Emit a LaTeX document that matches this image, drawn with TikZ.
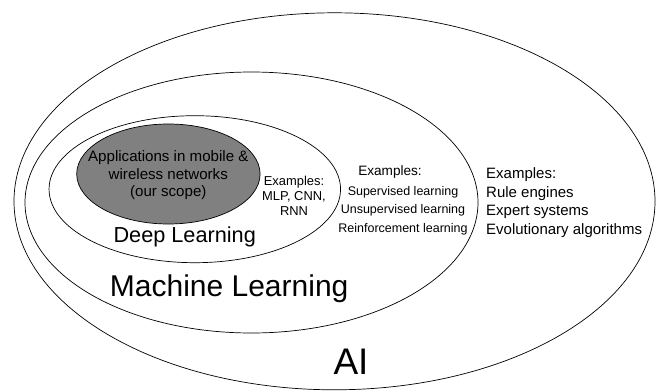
\documentclass[tikz,border=0pt]{standalone}
\usepackage{fontspec}
\setmainfont{Liberation Sans}
\usepackage{xcolor}
\usepackage{tikz}
\usetikzlibrary{shapes.geometric}
\definecolor{scopeGray}{RGB}{128,128,128}
\newcommand{\scopeLines}{0/Applications in mobile \&, 1/wireless networks, 2/(our scope)}
\newcommand{\dlExamples}{0/Examples:, 1/{MLP, CNN,}, 2/RNN}
\newcommand{\mlExamples}{0/Supervised learning, 1/Unsupervised learning, 2/Reinforcement learning}
\newcommand{\aiExamples}{0/Examples:, 1/Rule engines, 2/Expert systems, 3/Evolutionary algorithms}
\newcommand{\setSize}[1]{\fontsize{#1}{#1}\selectfont}
\tikzset{
	setOval/.style={ellipse, draw, line width=.7pt, inner sep=0pt},
	setLabel/.style={anchor=base, inner sep=0pt}
}

\begin{document}
\begin{tikzpicture}[x=1pt, y=-1pt]
	\useasboundingbox (0,0) rectangle (657,391);
	
	\node[setOval, minimum width=641, minimum height=377] (ai) at (334.5,201.3) {};
	\node[setOval, minimum width=453, minimum height=261] (ml) at (251.5,202.5) {};
	\node[setOval, minimum width=291.5, minimum height=147] (dl) at (194.8,189.2) {};
	\node[setOval, fill=scopeGray, minimum width=183.4, minimum height=100] (scope) at (168.4,174) {};
	
	\foreach \lineNumber/\name in \scopeLines
	{
		\node[setLabel, font=\setSize{15.1}] (scopeText\lineNumber) at (168.3,161.5 + \lineNumber * 17.5) {\name};
	}
	\foreach \lineNumber/\name in \dlExamples
	{
		\node[setLabel, font=\setSize{12.9}] (dlText\lineNumber) at (294,185 + \lineNumber * 15.3) {\name};
	}
	\node[setLabel, font=\setSize{13.6}] (mlHead) at (390,175.5) {Examples:};
	\foreach \lineNumber/\name in \mlExamples
	{
		\node[setLabel, font=\setSize{12.5}] (mlText\lineNumber) at (403,195.5 + \lineNumber * 18.3) {\name};
	}
	\foreach \lineNumber/\name in \aiExamples
	{
		\node[setLabel, anchor=base west, font=\setSize{15}] (aiText\lineNumber) at (486,178.5 + \lineNumber * 18.5) {\name};
	}
	
	\node[setLabel, font=\setSize{21.7}] (dlName) at (184.7,242.7) {Deep Learning};
	\node[setLabel, font=\setSize{30}] (mlName) at (229.2,296.7) {Machine Learning};
	\node[setLabel, font=\setSize{37}] (aiName) at (351,374) {AI};
\end{tikzpicture}
\end{document}
